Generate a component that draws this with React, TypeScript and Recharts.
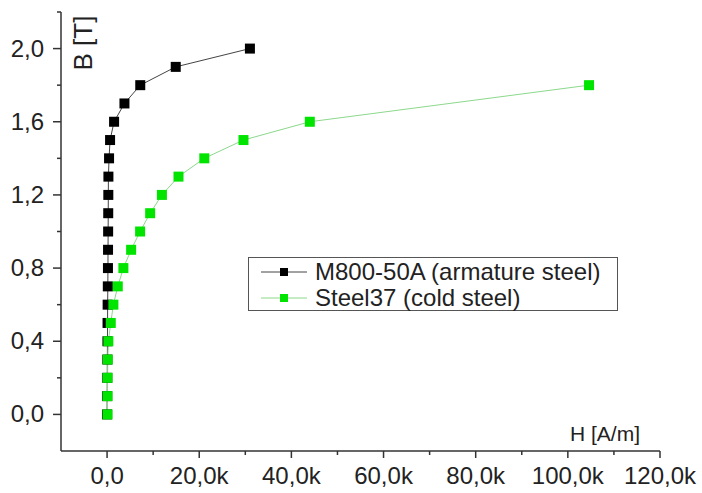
import React from "react";
import { LineChart, Line, XAxis, YAxis, Label } from "recharts";

// M800-50A (armature steel)
const m800B = [0, 0.1, 0.2, 0.3, 0.4, 0.5, 0.6, 0.7, 0.8, 0.9, 1.0, 1.1, 1.2, 1.3, 1.4, 1.5, 1.6, 1.7, 1.8, 1.9, 2.0];
const m800H = [0, 20, 40, 60, 80, 100, 120, 160, 190, 210, 230, 250, 270, 290, 430, 650, 1520, 3770, 7200, 14900, 31000];

// Steel37 (cold steel)
const st37B = [0, 0.1, 0.2, 0.3, 0.4, 0.5, 0.6, 0.7, 0.8, 0.9, 1.0, 1.1, 1.2, 1.3, 1.4, 1.5, 1.6, 1.8];
const st37H = [100, 100, 100, 150, 280, 800, 1370, 2320, 3540, 5220, 7170, 9350, 11900, 15500, 21100, 29600, 44000, 104600];

const xTicks = [-10000, 0, 10000, 20000, 30000, 40000, 50000, 60000, 70000, 80000, 90000, 100000, 110000, 120000];
const yTicks = [-0.2, 0, 0.2, 0.4, 0.6, 0.8, 1.0, 1.2, 1.4, 1.6, 1.8, 2.0, 2.2];

const m800 = m800B.map((b, i) => ({ h: m800H[i], b }));
const st37 = st37B.map((b, i) => ({ h: st37H[i], b }));

const FONT = "'Liberation Sans', Arial, sans-serif";
const INK = "#222";
const BLACK = "#000";
const GREEN = "#00e400";
const GREEN_LINE = "#8cd88c";

const fmtX = (v: number) => (v === 0 ? "0,0" : `${(v / 1000).toFixed(1).replace(".", ",")}k`);
const fmtY = (v: number) => v.toFixed(1).replace(".", ",");

function XTick(props: any) {
  const { x, y, payload } = props;
  const v = payload.value;
  if (v === -10000) return null;
  const major = v % 20000 === 0;
  return (
    <g>
      <line x1={x} x2={x} y1={y} y2={y + (major ? 7 : 4)} stroke="#333" strokeWidth={1.5} />
      {major && (
        <text x={x} y={y + 33} textAnchor="middle" fontSize={24} fill={INK} fontFamily={FONT}>
          {fmtX(v)}
        </text>
      )}
    </g>
  );
}

function YTick(props: any) {
  const { x, y, payload } = props;
  const v = payload.value;
  const major = Math.round(v * 10) % 4 === 0;
  if (v < 0) return null;
  return (
    <g>
      <line x1={x - (major ? 8 : 4)} x2={x} y1={y} y2={y} stroke="#333" strokeWidth={1.5} />
      {major && (
        <text x={x - 17} y={y + 8} textAnchor="end" fontSize={24} fill={INK} fontFamily={FONT}>
          {fmtY(v)}
        </text>
      )}
    </g>
  );
}

const square = (color: string) => (p: any) => (
  <rect key={`${color}-${p.index}`} x={p.cx - 5} y={p.cy - 5} width={10} height={10} fill={color} />
);

function LegendBox() {
  const rows = [
    { name: "M800-50A (armature steel)", line: "#444", mark: BLACK },
    { name: "Steel37 (cold steel)", line: GREEN_LINE, mark: GREEN },
  ];
  return (
    <div
      style={{
        position: "absolute",
        left: 248,
        top: 257,
        border: "1.5px solid #555",
        width: 370,
        height: 54,
        boxSizing: "border-box",
        background: "#fff",
        fontFamily: FONT,
        fontSize: 24,
        color: INK,
        paddingTop: 1,
      }}
    >
      {rows.map((r) => (
        <div key={r.name} style={{ display: "flex", alignItems: "center", height: 26 }}>
          <svg width={66} height={20} style={{ marginLeft: 10, flex: "none" }}>
            <line x1={2} x2={48} y1={10} y2={10} stroke={r.line} strokeWidth={1} />
            <rect x={21} y={6} width={8} height={8} fill={r.mark} />
          </svg>
          <span style={{ marginLeft: -10, lineHeight: "26px", whiteSpace: "nowrap" }}>{r.name}</span>
        </div>
      ))}
    </div>
  );
}

export default function App() {
  return (
    <div style={{ position: "absolute", left: 0, top: 0, width: 702, height: 493, background: "#fff" }}>
      <LineChart width={702} height={493} margin={{ top: 12, right: 42, bottom: 0, left: 0 }}>
        <XAxis
          type="number"
          dataKey="h"
          domain={[-10000, 120000]}
          ticks={xTicks}
          interval={0}
          height={42}
          tickSize={0}
          tickMargin={0}
          tickLine={false}
          axisLine={{ stroke: "#333", strokeWidth: 1.5 }}
          tick={<XTick />}
          allowDataOverflow
        >
          <Label
            content={(p: any) => {
              const vb = p.viewBox;
              return (
                <text x={vb.x + vb.width - 20} y={vb.y - 10} textAnchor="end" fontSize={21} fill={INK} fontFamily={FONT}>
                  H [A/m]
                </text>
              );
            }}
          />
        </XAxis>
        <YAxis
          type="number"
          dataKey="b"
          domain={[-0.2, 2.2]}
          ticks={yTicks}
          interval={0}
          width={61}
          tickSize={0}
          tickMargin={0}
          tickLine={false}
          axisLine={{ stroke: "#333", strokeWidth: 1.5 }}
          tick={<YTick />}
          allowDataOverflow
        >
          <Label
            content={(p: any) => {
              const vb = p.viewBox;
              const cx = vb.x + vb.width + 31;
              const cy = vb.y + 31;
              return (
                <text
                  x={cx}
                  y={cy}
                  transform={`rotate(-90 ${cx} ${cy})`}
                  textAnchor="middle"
                  fontSize={26}
                  fill={INK}
                  fontFamily={FONT}
                >
                  B [T]
                </text>
              );
            }}
          />
        </YAxis>
        <Line
          data={m800}
          dataKey="b"
          name="M800-50A (armature steel)"
          stroke="#444"
          strokeWidth={1}
          dot={square(BLACK)}
          activeDot={false}
          isAnimationActive={false}
          type="linear"
        />
        <Line
          data={st37}
          dataKey="b"
          name="Steel37 (cold steel)"
          stroke={GREEN_LINE}
          strokeWidth={1}
          dot={square(GREEN)}
          activeDot={false}
          isAnimationActive={false}
          type="linear"
        />
      </LineChart>
      <LegendBox />
    </div>
  );
}
